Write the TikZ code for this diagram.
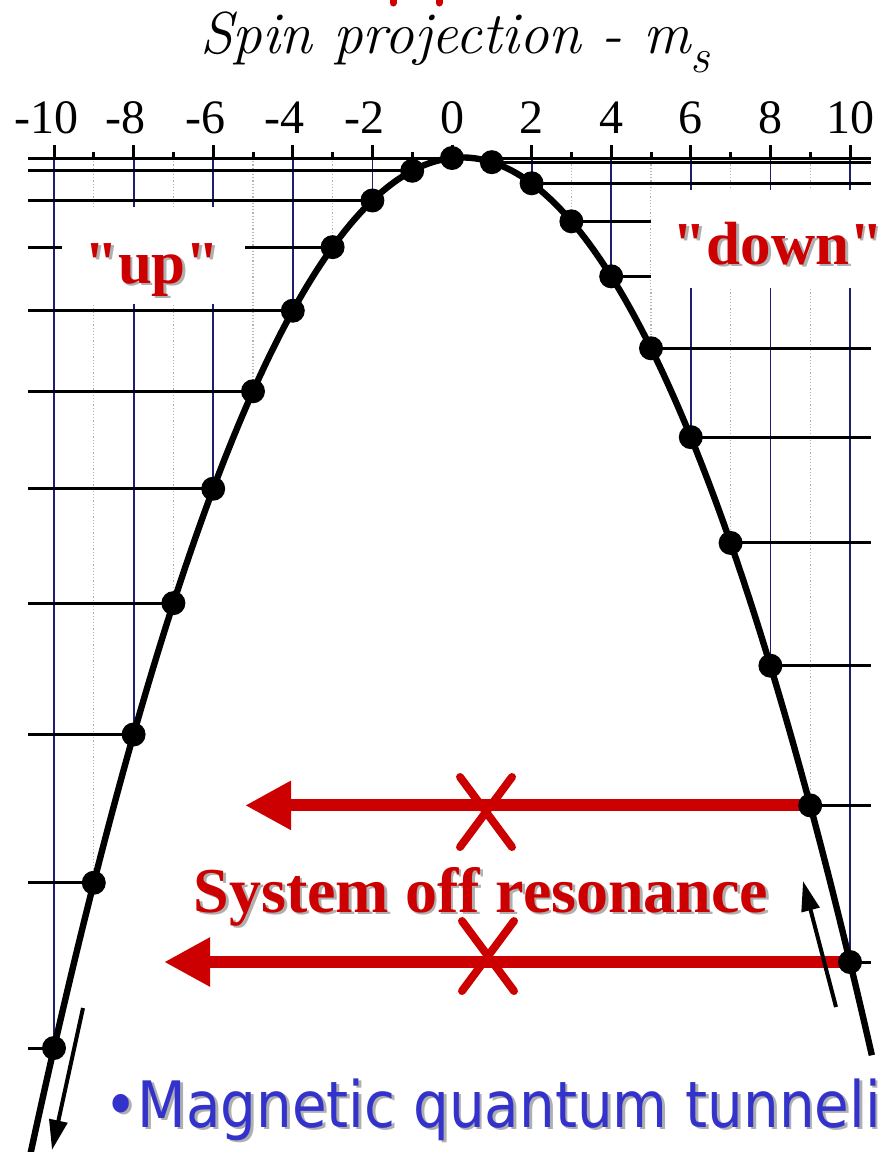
\documentclass[tikz,border=0pt]{standalone}
\usepackage{fontspec}
\setmainfont{Liberation Serif}
\newfontfamily\titlefont{Latin Modern Roman}
\newfontfamily\comicfont{DejaVu Sans}
\usetikzlibrary{arrows.meta}
\definecolor{redink}{RGB}{204,0,0}
\definecolor{blueink}{RGB}{51,51,204}
\definecolor{gridnavy}{RGB}{30,30,110}
\definecolor{dotgray}{RGB}{180,180,180}
\definecolor{shadowgray}{RGB}{175,175,175}

% text with a grey drop shadow: style, position, name, text
\newcommand{\shadowtext}[4]{%
  \node[#1, text=shadowgray, xshift=1.4pt, yshift=-1.4pt] at (#2) {#4};
  \node[#1] (#3) at (#2) {#4};
}

\begin{document}
\begin{tikzpicture}[x=0.5pt, y=-0.5pt,
  gridline/.style={gridnavy, line width=0.9pt},
  oddline/.style={dotgray, line width=0.6pt, densely dotted},
  tick/.style={line width=1.5pt},
  level/.style={line width=1.5pt},
  spot/.style={circle, fill=black, inner sep=0pt, minimum size=12pt},
  redarrow/.style={redink, line width=6pt, -{Triangle[length=23pt, width=23pt]}},
  cross/.style={redink, line width=4pt, line cap=round},
  thinarrow/.style={line width=2pt, -{Triangle[length=15pt, width=9pt]}},
  ticklabel/.style={font=\fontsize{24pt}{24pt}\selectfont, inner sep=0pt, anchor=base},
  redlabel/.style={text=redink, font=\fontsize{30.5pt}{30.5pt}\selectfont\bfseries, inner sep=0pt, anchor=base}]
  \useasboundingbox (0,0) rectangle (888,1152);
  \clip (0,0) rectangle (888,1152);

  % energy levels E(m)
  \foreach \m in {-10,...,10} {
    \pgfmathsetmacro\xm{452+39.8*\m}
    \pgfmathsetmacro\ym{158+8.47*\m*\m-4.3*\m}
    \coordinate (c\m) at (\xm,\ym);
  }
  \coordinate (top) at (0,158);
  \coordinate (left) at (28,0);
  \coordinate (right) at (871,0);

  % grid and ticks
  \foreach \m in {-10,-8,...,10} {
    \draw[gridline] (c\m |- top) -- (c\m);
    \draw[tick] (c\m |- top) -- ++(0,-13);
  }
  \foreach \m in {-9,-7,...,9} {
    \draw[oddline] (c\m |- top) -- (c\m);
    \draw[tick] (c\m |- top) -- ++(0,-6);
  }
  \foreach \m in {-10,-8,...,10} {
    \pgfmathtruncatemacro\am{abs(\m)}
    \node[ticklabel] (t\m) at (c\m |- 0,133) {\ifnum\m<0 \llap{-}\fi\am};
  }

  % level lines
  \draw[level] (left |- c0) -- (right |- c0);
  \foreach \m in {-10,...,-1}
    \draw[level] (left |- c\m) -- (c\m);
  \foreach \m in {1,...,10}
    \draw[level] (c\m) -- (right |- c\m);

  % white boxes behind the labels
  \fill[white] (62,207) rectangle (245,304);
  \fill[white] (651,190) rectangle (888,288);

  \draw[line width=3.2pt] plot[domain=-10.75:10.55, samples=120, smooth]
    ({452+39.8*\x},{158+8.47*\x*\x-4.3*\x});

  % blocked transitions
  \coordinate (tipup) at (245,0);
  \coordinate (tiplow) at (164,0);
  \draw[redarrow] (c9) -- (tipup |- c9);
  \draw[redarrow] (c10) -- (tiplow |- c10);
  \foreach \cx/\cy in {486/812, 488/956}
    \draw[cross] (\cx-26,\cy-35) -- (\cx+26,\cy+35) (\cx+26,\cy-35) -- (\cx-26,\cy+35);

  \foreach \m in {-10,...,10}
    \node[spot] (d\m) at (c\m) {};

  \coordinate (upA) at (836,1007);
  \coordinate (upB) at (803,881);
  \coordinate (downA) at (83,1008);
  \coordinate (downB) at (52,1150);
  \draw[thinarrow] (upA) -- (upB);
  \draw[thinarrow] (downA) -- (downB);

  % cut-off strokes at the top edge
  \draw[redink, line width=3.5pt, line cap=round] (393,-10) -- (393,3) (439,-10) -- (439,3);

  \node[anchor=base, inner sep=0pt, font=\fontsize{29.6pt}{29.6pt}\titlefont\itshape] (title) at (455,53)
    {Spin projection - m\raisebox{-9.5pt}{\fontsize{24pt}{24pt}\selectfont s}};

  \shadowtext{redlabel}{152,283}{up}{\textquotedbl up\textquotedbl}
  \shadowtext{redlabel}{778,264}{down}{\textquotedbl down\textquotedbl}
  \shadowtext{redlabel, font=\fontsize{32pt}{32pt}\selectfont\bfseries}{481,912}{offres}{System off resonance}
  \shadowtext{text=blueink, inner sep=0pt, anchor=base west, font=\fontsize{32pt}{32pt}\comicfont}{104,1127}{mqt}{\scalebox{0.88}[1]{•Magnetic quantum tunneli}}
\end{tikzpicture}
\end{document}
